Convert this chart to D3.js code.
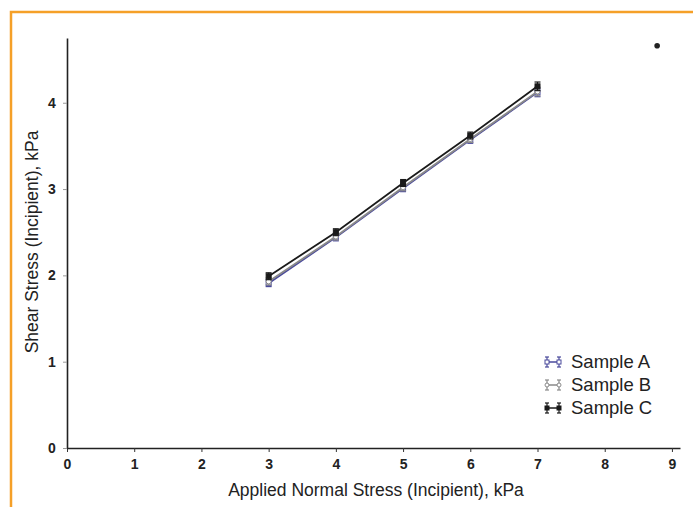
<!DOCTYPE html>
<html><head><meta charset="utf-8">
<script src="https://cdn.jsdelivr.net/npm/d3@7/dist/d3.min.js"></script>
<style>body{margin:0;background:#fff}svg{display:block}</style>
</head><body>
<svg id="c" width="693" height="507"></svg>
<script>
const xValues = [3, 4, 5, 6, 7];
const sampleA = [1.91, 2.44, 3.01, 3.57, 4.12];
const sampleB = [1.93, 2.45, 3.02, 3.58, 4.13];
const sampleC = [1.99, 2.50, 3.07, 3.62, 4.19];
const errA = [0.04, 0.04, 0.04, 0.04, 0.05];
const errB = [0.04, 0.04, 0.04, 0.04, 0.05];
const errC = [0.04, 0.04, 0.04, 0.04, 0.05];
const strayPoint = [{x: 8.78, y: 4.66}];
const seriesNames = ["Sample A", "Sample B", "Sample C"];
const xTicks = [0,1,2,3,4,5,6,7,8,9];
const yTicks = [0,1,2,3,4];

const svg = d3.select("#c");
// orange frame
svg.append("path").attr("d","M11,507 L11,12 L700,12").attr("fill","none")
  .attr("stroke","#f5a028").attr("stroke-width",2.5);

const x = d3.scaleLinear().domain([0, 9.12]).range([67, 680]);
const y = d3.scaleLinear().domain([0, 4.75]).range([448, 38]);

const font = "Liberation Sans, Arial, sans-serif";

// axes
const xa = svg.append("g").attr("transform","translate(0,448)")
  .call(d3.axisBottom(x).tickValues(xTicks).tickSize(4).tickSizeOuter(0).tickFormat(d3.format("d")));
xa.select(".domain").attr("stroke","#222").attr("stroke-width",1.6);
xa.selectAll(".tick line").attr("stroke","#333");
xa.selectAll("text").attr("font-family",font).attr("font-size",14).attr("font-weight","bold").attr("fill","#222").attr("dy","1em");

const ya = svg.append("g").attr("transform","translate(67,0)")
  .call(d3.axisLeft(y).tickValues(yTicks).tickSize(4).tickSizeOuter(0).tickFormat(d3.format("d")));
ya.select(".domain").attr("stroke","#222").attr("stroke-width",1.6);
ya.selectAll(".tick line").attr("stroke","#999");
ya.selectAll("text").attr("font-family",font).attr("font-size",14).attr("font-weight","bold").attr("fill","#222").attr("dx","-0.3em");

svg.append("text").attr("x",376).attr("y",496).attr("text-anchor","middle")
  .attr("font-family",font).attr("font-size",17.5).attr("fill","#222")
  .text("Applied Normal Stress (Incipient), kPa");
svg.append("text").attr("transform","translate(38,242) rotate(-90)").attr("text-anchor","middle")
  .attr("font-family",font).attr("font-size",17.5).attr("fill","#222")
  .text("Shear Stress (Incipient), kPa");

const series = [
  {name: seriesNames[0], vals: sampleA, err: errA, color: "#4a4a9c", marker: "square", fill: "#fff"},
  {name: seriesNames[1], vals: sampleB, err: errB, color: "#8a8a8a", marker: "circle", fill: "#fff"},
  {name: seriesNames[2], vals: sampleC, err: errC, color: "#1a1a1a", marker: "square", fill: "#1a1a1a"}
];

const line = d3.line().x(d => x(d.x)).y(d => y(d.y));
series.forEach(s => {
  const pts = xValues.map((xv,i) => ({x: xv, y: s.vals[i], e: s.err[i]}));
  svg.append("path").datum(pts).attr("d", line).attr("fill","none")
    .attr("stroke", s.color).attr("stroke-width", 1.8);
  const g = svg.append("g");
  pts.forEach(p => {
    g.append("line").attr("x1",x(p.x)).attr("x2",x(p.x)).attr("y1",y(p.y-p.e)).attr("y2",y(p.y+p.e)).attr("stroke",s.color).attr("stroke-width",1.2);
    [p.y-p.e, p.y+p.e].forEach(v => g.append("line").attr("x1",x(p.x)-3).attr("x2",x(p.x)+3).attr("y1",y(v)).attr("y2",y(v)).attr("stroke",s.color).attr("stroke-width",1.2));
    if (s.marker === "square") {
      g.append("rect").attr("x",x(p.x)-2.5).attr("y",y(p.y)-2.5).attr("width",5).attr("height",5)
        .attr("fill",s.fill).attr("stroke",s.color).attr("stroke-width",1);
    } else {
      g.append("circle").attr("cx",x(p.x)).attr("cy",y(p.y)).attr("r",2.5)
        .attr("fill",s.fill).attr("stroke",s.color).attr("stroke-width",1);
    }
  });
});

// stray marker
svg.selectAll(".stray").data(strayPoint).enter().append("circle")
  .attr("cx", d => x(d.x)).attr("cy", d => y(d.y)).attr("r", 2.8).attr("fill","#222");

// legend
const lg = svg.append("g");
series.forEach((s,i) => {
  const cy = 362 + i*23, cx = 553;
  const gg = lg.append("g");
  gg.append("line").attr("x1",cx-7).attr("x2",cx+7).attr("y1",cy).attr("y2",cy).attr("stroke",s.color).attr("stroke-width",1.5);
  [cx-6, cx+6].forEach(xx => {
    gg.append("line").attr("x1",xx).attr("x2",xx).attr("y1",cy-5).attr("y2",cy+5).attr("stroke",s.color).attr("stroke-width",1.2);
    gg.append("line").attr("x1",xx-2).attr("x2",xx+2).attr("y1",cy-5).attr("y2",cy-5).attr("stroke",s.color).attr("stroke-width",1.2);
    gg.append("line").attr("x1",xx-2).attr("x2",xx+2).attr("y1",cy+5).attr("y2",cy+5).attr("stroke",s.color).attr("stroke-width",1.2);
    if (s.marker === "square") gg.append("rect").attr("x",xx-2).attr("y",cy-2).attr("width",4).attr("height",4).attr("fill",s.fill).attr("stroke",s.color);
    else gg.append("circle").attr("cx",xx).attr("cy",cy).attr("r",2).attr("fill",s.fill).attr("stroke",s.color);
  });
  lg.append("text").attr("x",571).attr("y",cy+6).attr("font-family",font).attr("font-size",18.5).attr("fill","#222").text(s.name);
});
</script>
</body></html>
